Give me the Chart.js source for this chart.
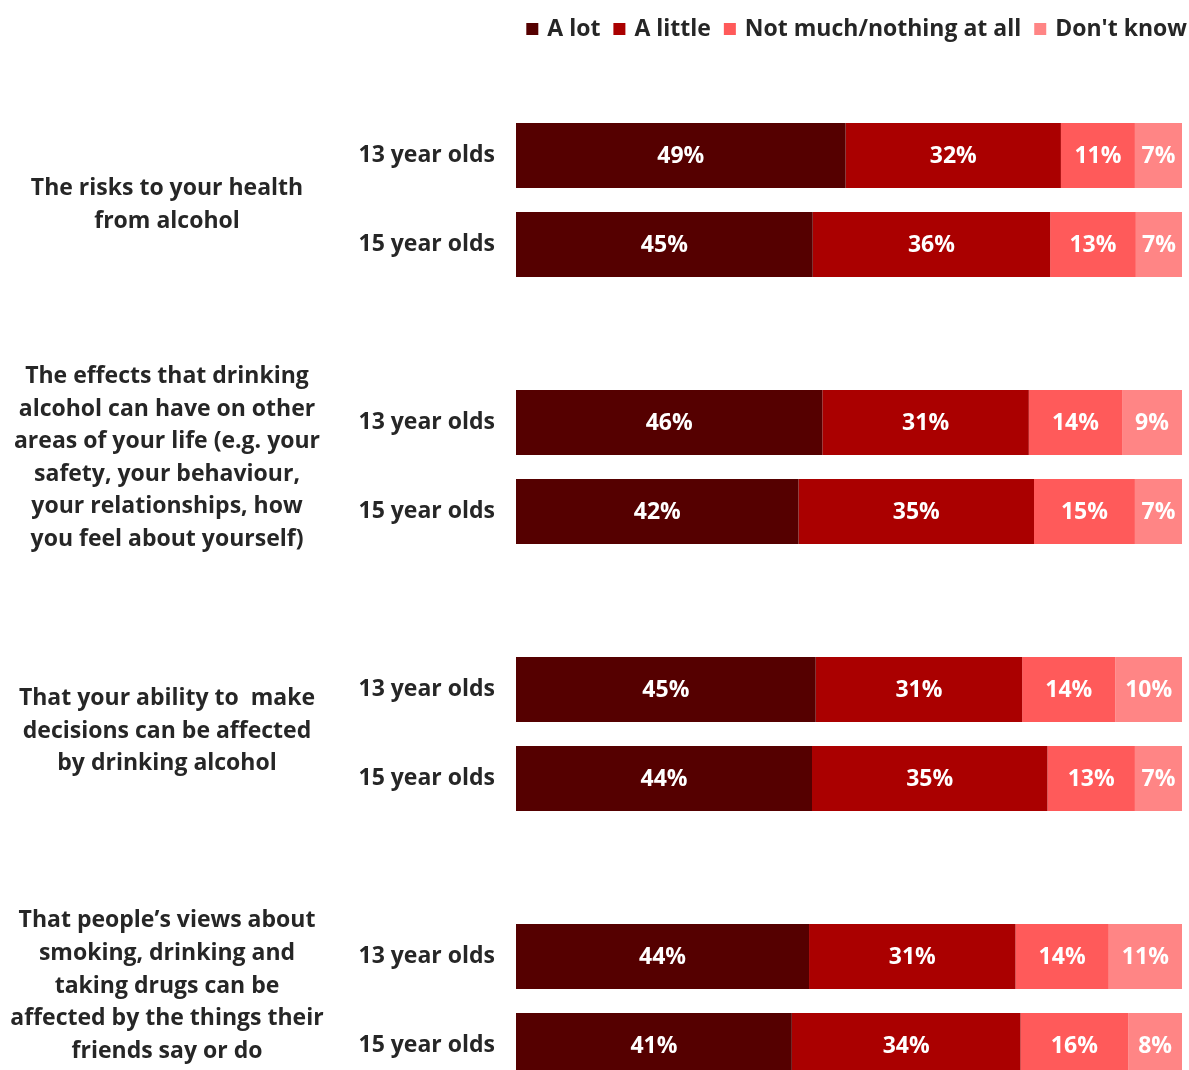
<!DOCTYPE html>
<html>
<head>
<meta charset="utf-8">
<title>Alcohol knowledge by age</title>
<script src="https://cdn.jsdelivr.net/npm/chart.js@4"></script>
<style>
  html, body { margin: 0; padding: 0; background: #fff; overflow: hidden; }
  #wrap { width: 1189px; height: 1070px; overflow: hidden; }
</style>
</head>
<body>
<div id="wrap"><canvas id="chart" width="1189" height="1100"></canvas></div>
<script>
// survey rows: two age groups per question
const ages = ['13 year olds', '15 year olds'];
const questions = [
  ['The risks to your health', 'from alcohol'],
  ['The effects that drinking', 'alcohol can have on other', 'areas of your life (e.g. your',
   'safety, your behaviour,', 'your relationships, how', 'you feel about yourself)'],
  ['That your ability to  make', 'decisions can be affected', 'by drinking alcohol'],
  ['That people\u2019s views about', 'smoking, drinking and', 'taking drugs can be',
   'affected by the things their', 'friends say or do']
];

const seriesNames = ['A lot', 'A little', 'Not much/nothing at all', "Don't know"];
const seriesColors = ['#550000', '#aa0000', '#ff5a5a', '#ff8585'];

// one value per row, in question order (13 then 15 year olds)
const aLot     = [49, 45, 46, 42, 45, 44, 44, 41];
const aLittle  = [32, 36, 31, 35, 31, 35, 31, 34];
const notMuch  = [11, 13, 14, 15, 14, 13, 14, 16];
const dontKnow = [7, 7, 9, 7, 10, 7, 11, 8];

const FONT = "'Open Sans', 'Noto Sans', sans-serif";
const TEXT = '#262626';
// vertical nudge of each question's text block against its pair of bars
const questionShift = [5, -9, -3, -15];

// lay the rows out on the category axis, with an empty slot between questions
const labels = [];
const rowIndex = [];
questions.forEach((q, qi) => {
  ages.forEach((a, ai) => {
    labels.push(a);
    rowIndex.push(qi * ages.length + ai);
  });
  if (qi < questions.length - 1) {
    labels.push('');
    rowIndex.push(null);
  }
});

const rawSeries = [aLot, aLittle, notMuch, dontKnow];
const rowTotal = aLot.map((v, i) => v + aLittle[i] + notMuch[i] + dontKnow[i]);

const datasets = rawSeries.map((vals, si) => ({
  label: seriesNames[si],
  backgroundColor: seriesColors[si],
  borderWidth: 0,
  // 100% stacked: each segment is its share of the row total
  data: rowIndex.map(r => r === null ? null : vals[r] / rowTotal[r] * 100),
  raw: rowIndex.map(r => r === null ? null : vals[r])
}));

const valueLabels = {
  id: 'valueLabels',
  afterDatasetsDraw(chart) {
    const ctx = chart.ctx;
    ctx.save();
    ctx.font = 'bold 23px ' + FONT;
    ctx.fillStyle = '#fff';
    ctx.textAlign = 'center';
    ctx.textBaseline = 'middle';
    chart.data.datasets.forEach((ds, i) => {
      chart.getDatasetMeta(i).data.forEach((bar, j) => {
        if (ds.raw[j] == null) return;
        const p = bar.getProps(['x', 'y', 'base'], true);
        ctx.fillText(ds.raw[j] + '%', (p.x + p.base) / 2, p.y + 1);
      });
    });
    ctx.restore();
  }
};

const questionLabels = {
  id: 'questionLabels',
  afterDraw(chart) {
    const ctx = chart.ctx;
    const y = chart.scales.y;
    const lh = 32.6;
    ctx.save();
    ctx.font = 'bold 23px ' + FONT;
    ctx.fillStyle = TEXT;
    ctx.textAlign = 'center';
    ctx.textBaseline = 'middle';
    questions.forEach((lines, qi) => {
      const first = qi * (ages.length + 1);
      const mid = (y.getPixelForValue(first) + y.getPixelForValue(first + 1)) / 2 + questionShift[qi];
      const top = mid - (lines.length - 1) * lh / 2;
      lines.forEach((t, k) => ctx.fillText(t, 167, top + k * lh));
    });
    ctx.restore();
  }
};

const topLegend = {
  id: 'topLegend',
  afterDraw(chart) {
    const ctx = chart.ctx;
    const box = 12, gap = 9, space = 13, cy = 29;
    ctx.save();
    ctx.font = 'bold 23px ' + FONT;
    ctx.textBaseline = 'middle';
    const items = chart.data.datasets.map(ds => ({
      text: ds.label, color: ds.backgroundColor, w: ctx.measureText(ds.label).width
    }));
    const total = items.reduce((s, it) => s + box + gap + it.w, 0) + space * (items.length - 1);
    let x = 1187 - total;
    items.forEach(it => {
      ctx.fillStyle = it.color;
      ctx.fillRect(x, cy - box / 2, box, box);
      x += box + gap;
      ctx.fillStyle = TEXT;
      ctx.fillText(it.text, x, cy);
      x += it.w + space;
    });
    ctx.restore();
  }
};

new Chart(document.getElementById('chart'), {
  type: 'bar',
  data: { labels, datasets },
  options: {
    indexAxis: 'y',
    responsive: false,
    animation: false,
    layout: { padding: { top: 111, right: 7, bottom: 10, left: 0 } },
    datasets: { bar: { categoryPercentage: 1, barPercentage: 0.73 } },
    scales: {
      x: { stacked: true, min: 0, max: 100, display: false },
      y: {
        stacked: true,
        grid: { display: false, drawTicks: false },
        border: { display: false },
        ticks: { color: TEXT, padding: 21, font: { family: FONT, size: 23, weight: 'bold' } },
        afterFit(scale) {
          scale.width = 516;
          scale.paddingTop = 0;
          scale.paddingBottom = 0;
        }
      }
    },
    plugins: { legend: { display: false }, tooltip: { enabled: false } }
  },
  plugins: [valueLabels, questionLabels, topLegend]
});
</script>
</body>
</html>
